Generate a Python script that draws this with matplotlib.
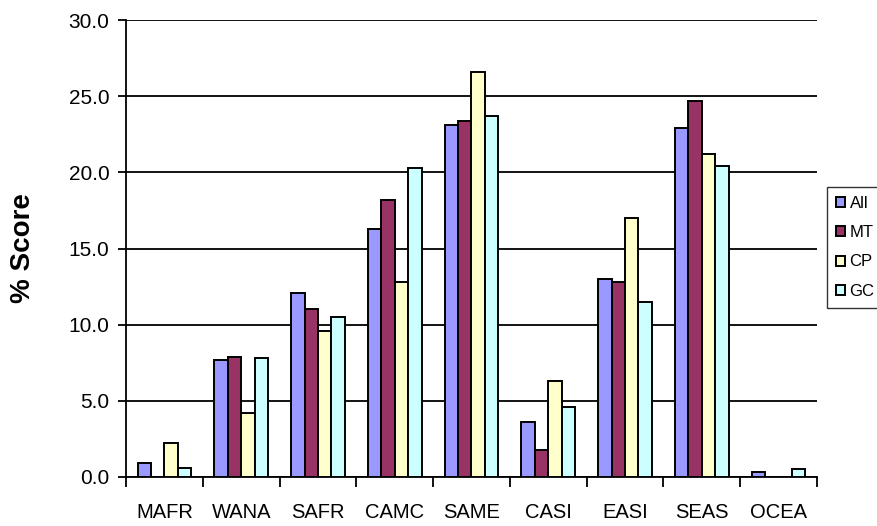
import numpy as np
import matplotlib.pyplot as plt

plt.rcParams['font.family'] = ['Liberation Sans', 'DejaVu Sans']

regions = ['MAFR', 'WANA', 'SAFR', 'CAMC', 'SAME', 'CASI', 'EASI', 'SEAS', 'OCEA']
series = ['All', 'MT', 'CP', 'GC']
score_all = [0.9, 7.7, 12.1, 16.3, 23.1, 3.6, 13.0, 22.9, 0.3]
score_mt = [0.0, 7.9, 11.0, 18.2, 23.4, 1.8, 12.8, 24.7, 0.0]
score_cp = [2.2, 4.2, 9.6, 12.8, 26.6, 6.3, 17.0, 21.2, 0.0]
score_gc = [0.6, 7.8, 10.5, 20.3, 23.7, 4.6, 11.5, 20.4, 0.5]
colors = ['#9999FF', '#993366', '#FFFFCC', '#CCFFFF']

fig = plt.figure(figsize=(8.77, 5.26), dpi=100)
ax = fig.add_axes([126 / 877, 1 - 477 / 526, (817 - 126) / 877, (477 - 20) / 526])

x = np.arange(len(regions))
w = 0.175
handles = []
for i, (vals, c) in enumerate(zip([score_all, score_mt, score_cp, score_gc], colors)):
    b = ax.bar(x + (i - 1.5) * w, vals, w, color=c, edgecolor='black', linewidth=1.4,
               zorder=3, label=series[i])
    handles.append(b)

ax.set_xlim(-0.5, len(regions) - 0.5)
ax.set_ylim(0, 30)
ax.set_yticks(np.arange(0, 31, 5))
ax.set_yticklabels([f'{v:.1f}' for v in np.arange(0, 31, 5)], fontsize=15)
ax.yaxis.grid(True, color='black', linewidth=1.3, zorder=0)

# category labels centred, tick marks between groups
ax.set_xticks(x)
ax.set_xticklabels(regions, fontsize=14.5)
ax.tick_params(axis='x', length=0, pad=19)
ax.set_xticks(np.arange(-0.5, len(regions)), minor=True)
ax.tick_params(axis='x', which='minor', length=7, width=1.3, direction='out')
ax.tick_params(axis='y', length=6, width=1.3, direction='out', pad=6)

for side in ['top', 'right']:
    ax.spines[side].set_visible(False)
for side in ['left', 'bottom']:
    ax.spines[side].set_linewidth(1.3)

ax.set_ylabel('% Score', fontsize=20, fontweight='bold')
ax.yaxis.set_label_coords(-0.13, 0.5)

leg = fig.legend(handles=handles, labels=series, loc='upper left',
                 bbox_to_anchor=(827 / 877, 1 - 187 / 526), fontsize=12,
                 frameon=True, fancybox=False, edgecolor='black', handlelength=0.55,
                 handleheight=0.55, handletextpad=0.25, labelspacing=0.85,
                 borderpad=0.55, borderaxespad=0)
leg.get_frame().set_linewidth(1.0)

fig.savefig('out.png', dpi=100)
